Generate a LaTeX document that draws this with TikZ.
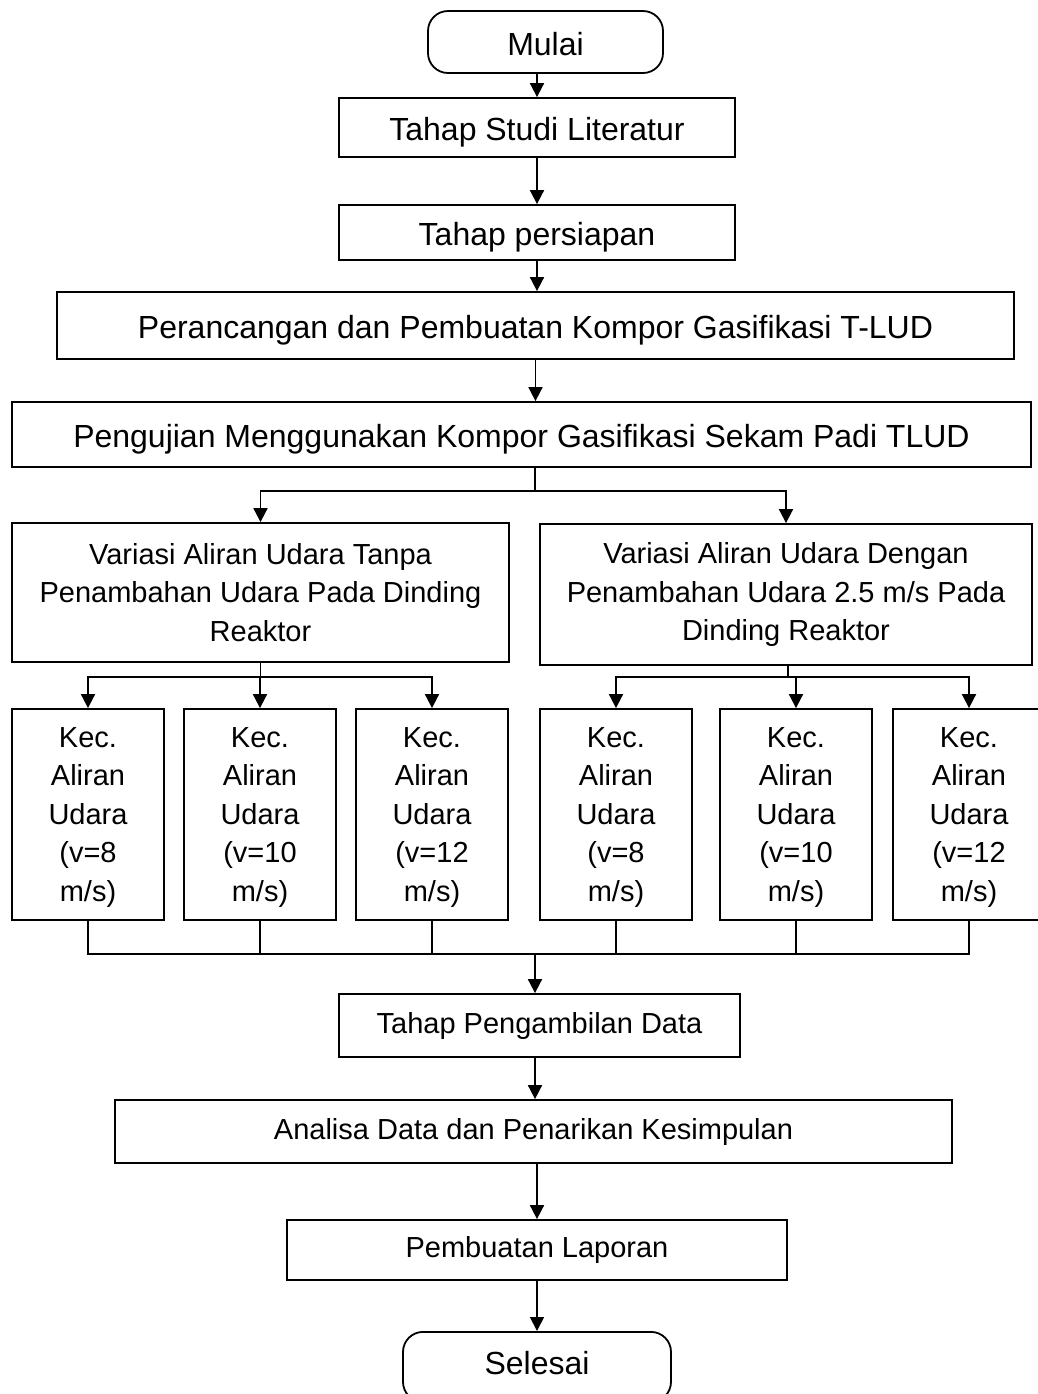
\documentclass[tikz,border=0pt]{standalone}
\usepackage{fontspec}
\setmainfont{Liberation Sans}
\usetikzlibrary{arrows.meta}

\begin{document}
\begin{tikzpicture}[x=0.5pt,y=-0.5pt,
  line width=0.9pt,
  main node/.style={rectangle,draw,align=center,inner sep=0pt,font=\fontsize{16}{19.25}\selectfont,text height=13pt,text depth=0pt},
  small node/.style={rectangle,draw,align=center,inner sep=0pt,font=\fontsize{14.5}{19.25}\selectfont},
  end node/.style={main node,rounded corners=10pt},
  kec node/.style={small node,text depth=0pt,minimum width=76pt,minimum height=105.5pt},
  arr/.style={-{Triangle[width=7pt,length=7pt]}}]

  \useasboundingbox (0,0) rectangle (1038,1394);

  \node[end node,minimum width=117.5pt,minimum height=31pt] (mulai) at (545.5,42){Mulai};
  \node[main node,minimum width=198pt,minimum height=29.5pt] (studi) at (537,127.5){Tahap Studi Literatur};
  \node[main node,minimum width=198pt,minimum height=27.5pt] (siap) at (537,232.5){Tahap persiapan};
  \node[main node,minimum width=478.5pt,minimum height=33.5pt] (rancang) at (535.5,325.5){Perancangan dan Pembuatan Kompor Gasifikasi T-LUD};
  \node[main node,minimum width=509.5pt,minimum height=32.5pt] (uji) at (521.5,434.5){Pengujian Menggunakan Kompor Gasifikasi Sekam Padi TLUD};

  \node[small node,minimum width=248.5pt,minimum height=69.5pt] (varA) at (260.5,592.5){Variasi Aliran Udara Tanpa\\Penambahan Udara Pada Dinding\\Reaktor};
  \node[small node,minimum width=246pt,minimum height=70.5pt] (varB) at (786,594.5){Variasi Aliran Udara Dengan\\Penambahan Udara 2.5 m/s Pada\\Dinding Reaktor};

  \node[kec node] (kA1) at (88,814.5){Kec.\\Aliran\\Udara\\(v=8\\m/s)};
  \node[kec node] (kA2) at (260,814.5){Kec.\\Aliran\\Udara\\(v=10\\m/s)};
  \node[kec node] (kA3) at (432,814.5){Kec.\\Aliran\\Udara\\(v=12\\m/s)};
  \node[kec node] (kB1) at (616,814.5){Kec.\\Aliran\\Udara\\(v=8\\m/s)};
  \node[kec node] (kB2) at (796,814.5){Kec.\\Aliran\\Udara\\(v=10\\m/s)};
  \node[kec node] (kB3) at (969,814.5){Kec.\\Aliran\\Udara\\(v=12\\m/s)};

  \node[small node,minimum width=200.5pt,minimum height=31.5pt] (data) at (539.5,1025.5){Tahap Pengambilan Data};
  \node[small node,minimum width=418.5pt,minimum height=31.5pt] (analisa) at (533.5,1131.5){Analisa Data dan Penarikan Kesimpulan};
  \node[small node,minimum width=250pt,minimum height=30pt] (laporan) at (537,1250){Pembuatan Laporan};
  \node[end node,text height=11.5pt,text depth=4pt,minimum width=134pt,minimum height=35pt,anchor=north] (selesai) at (537,1331){Selesai};

  \coordinate (splitU) at (535,491);
  \coordinate (splitA) at (260.5,677);
  \coordinate (splitB) at (788,677);
  \coordinate (merge) at (535,954);

  \path[arr]
    (studi.north |- mulai.south) edge (studi.north)
    (studi.south) edge (studi.south |- siap.north)
    (siap.south) edge (siap.south |- rancang.north)
    (rancang.south) edge (rancang.south |- uji.north);

  \draw (uji.south -| splitU) -- (splitU);
  \draw[arr] (splitU) -| (varA.north);
  \draw[arr] (splitU) -| (varB.north);

  \draw (varA.south) -- (splitA);
  \foreach \k in {kA1,kA2,kA3}
    \draw[arr] (splitA) -| (\k.north);
  \draw (varB.south -| splitB) -- (splitB);
  \foreach \k in {kB1,kB2,kB3}
    \draw[arr] (splitB) -| (\k.north);

  \foreach \k in {kA1,kA2,kA3,kB1,kB2,kB3}
    \draw (\k.south) |- (merge);
  \draw[arr] (merge) -- (merge |- data.north);

  \path[arr]
    (data.south -| merge) edge (merge |- analisa.north)
    (analisa.south -| laporan) edge (laporan.north)
    (laporan.south) edge (selesai.north);
\end{tikzpicture}
\end{document}
